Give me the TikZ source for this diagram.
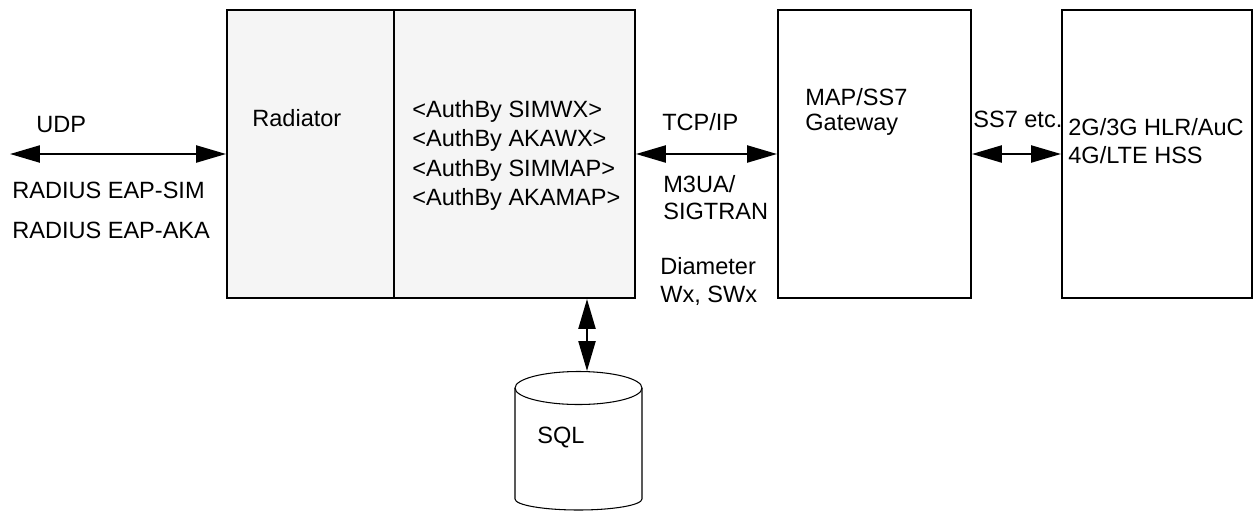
\documentclass[tikz,border=0pt]{standalone}
\usepackage{fontspec}
\setmainfont{Liberation Sans}
\usepackage{tikz}
\usetikzlibrary{arrows.meta,positioning}
\definecolor{boxgray}{RGB}{245,245,245}

\begin{document}
\begin{tikzpicture}[
  x=0.02cm, y=-0.02cm,
  box/.style={draw, line width=1.1pt, minimum height=5.76cm, inner sep=0pt},
  lbl/.style={inner sep=0pt, anchor=base west, font=\fontsize{13.4}{16}\selectfont},
  dbl/.style={{Triangle[length=0.6cm, width=0.34cm]}-{Triangle[length=0.6cm, width=0.34cm]},
    line width=1.3pt}
]
\useasboundingbox (0,0) rectangle (1255,511);

% boxes
\node[box, fill=boxgray, minimum width=8.16cm] (radiator) at (431,154) {};
\draw[line width=1.1pt] (394,10) -- (394,298);
\node[box, minimum width=3.86cm] (gateway) at (874.5,154) {};
\node[box, minimum width=3.8cm] (hlr) at (1157,154) {};

% database
\draw[line width=0.6pt] (515,388) -- (515,499)
  arc[start angle=180, end angle=360, x radius=1.27cm, y radius=0.22cm] -- (642,388);
\draw[line width=0.6pt] (578.5,388) ellipse [x radius=1.27cm, y radius=0.33cm];
\coordinate (sqltop) at (587,371);
\coordinate (client) at (10,154);

% texts
\node[lbl] (udp) at (36,132) {UDP};
\node[lbl] (eapsim) at (12,198) {RADIUS EAP-SIM};
\node[lbl] (eapaka) at (12,238) {RADIUS EAP-AKA};
\node[lbl] (radname) at (252,126) {Radiator};
\foreach \t [count=\i] in {SIMWX,AKAWX,SIMMAP,AKAMAP}
  \node[lbl] (auth\i) at (412,87.5+29.5*\i) {<AuthBy \t>};
\node[lbl] (tcpip) at (662,130) {TCP/IP};
\node[lbl] (m3ua) at (663,192) {M3UA/};
\node[lbl] (sigtran) at (663,219) {SIGTRAN};
\node[lbl] (diam) at (660,274) {Diameter};
\node[lbl] (wx) at (660,302) {Wx, SWx};
\node[lbl] (mapss) at (805,105) {MAP/SS7};
\node[lbl] (gw) at (805,130) {Gateway};
\node[lbl] (ssetc) at (973,127) {SS7 etc.};
\node[lbl] (hlrname) at (1068,135) {2G/3G HLR/AuC};
\node[lbl] (hss) at (1068,163) {4G/LTE HSS};
\node[lbl] (sql) at (537,443) {SQL};

% links
\draw[dbl] (client) -- (radiator);
\draw[dbl] (radiator) -- (gateway);
\draw[dbl] (gateway) -- (hlr);
\draw[dbl] (radiator.south -| sqltop) -- (sqltop);
\end{tikzpicture}
\end{document}
